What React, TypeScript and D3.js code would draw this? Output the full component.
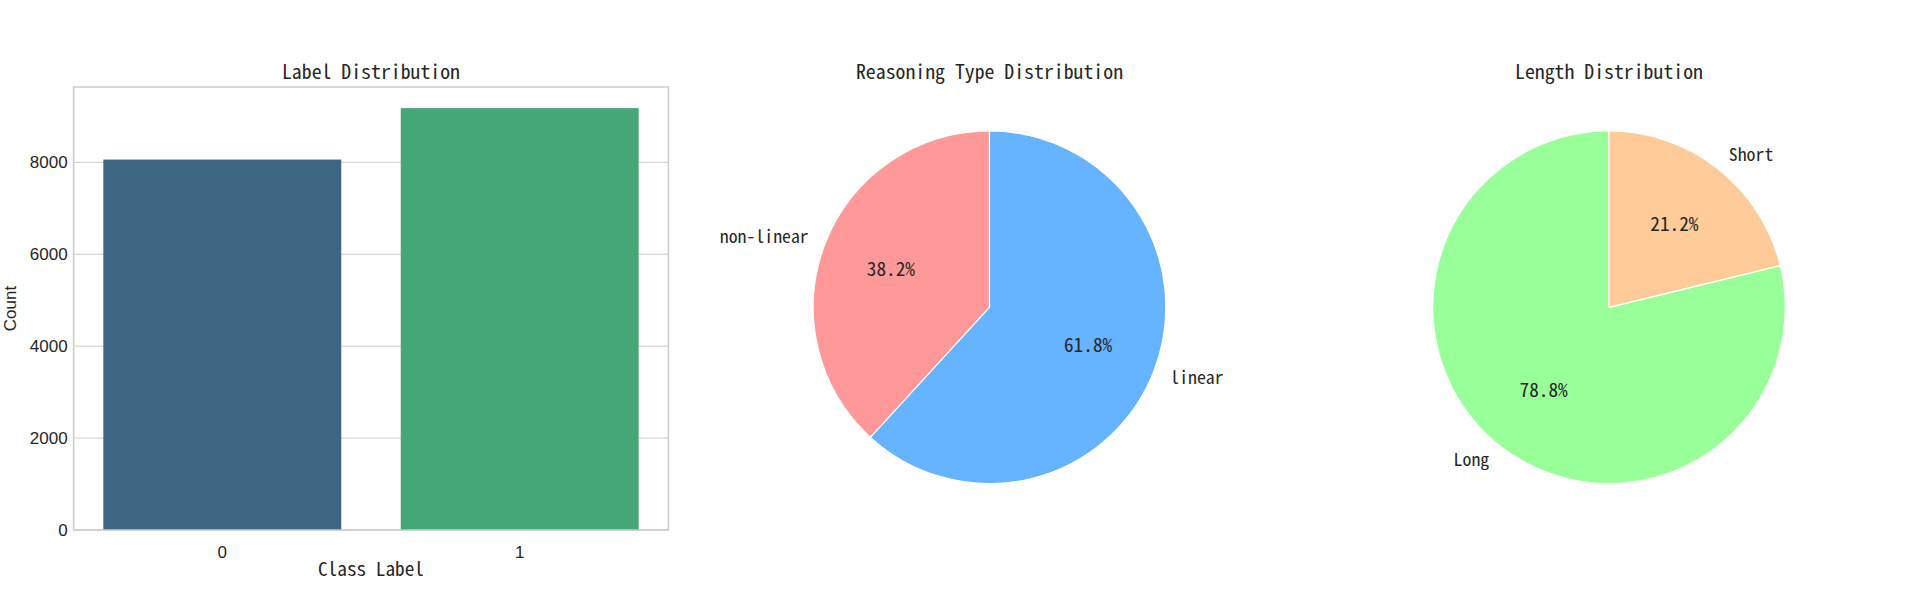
import React from "react";
import * as d3 from "d3";

const classLabels = ["0", "1"];
const classCounts = [8060, 9180];
const barColors = ["#3d6682", "#45a778"];
const yTicks = [0, 2000, 4000, 6000, 8000];

const reasoningLabels = ["non-linear", "linear"];
const reasoningShares = [38.2, 61.8];
const reasoningColors = ["#ff9999", "#66b3ff"];

const lengthLabels = ["Long", "Short"];
const lengthShares = [78.8, 21.2];
const lengthColors = ["#99ff99", "#ffcc99"];

const W = 1923;
const H = 600;
const MONO = "'Noto Sans Mono CJK SC', 'DejaVu Sans Mono', monospace";
const SANS = "'Liberation Sans', Arial, sans-serif";
const TXT = "#262626";

function BarPanel() {
  const left = 73.6, right = 668.4, top = 87, bottom = 530;
  const x = d3.scaleBand<string>().domain(classLabels).range([left, right]).paddingInner(0.2).paddingOuter(0.1);
  const maxV = d3.max(classCounts) as number;
  const y = d3.scaleLinear().domain([0, maxV * 1.05]).range([bottom, top]);
  return (
    <g>
      {yTicks.map((t) => (
        <g key={t}>
          <line x1={left} x2={right} y1={y(t)} y2={y(t)} stroke="#cccccc" strokeWidth={1} />
          <text x={left - 6} y={y(t)} dy="0.35em" textAnchor="end" fontFamily={SANS} fontSize={17} fill={TXT}>{t}</text>
        </g>
      ))}
      {classLabels.map((c, i) => (
        <g key={c}>
          <rect x={x(c)} y={y(classCounts[i])} width={x.bandwidth()} height={bottom - y(classCounts[i])} fill={barColors[i]} />
          <text x={(x(c) as number) + x.bandwidth() / 2} y={bottom + 28} textAnchor="middle" fontFamily={SANS} fontSize={17} fill={TXT}>{c}</text>
        </g>
      ))}
      <rect x={left} y={top} width={right - left} height={bottom - top} fill="none" stroke="#cccccc" strokeWidth={1.5} />
      <text x={(left + right) / 2} y={79} textAnchor="middle" fontFamily={MONO} fontSize={19.8} fill={TXT}>Label Distribution</text>
      <text x={(left + right) / 2} y={576} textAnchor="middle" fontFamily={MONO} fontSize={19.3} fill={TXT}>Class Label</text>
      <text transform={`translate(16,${(top + bottom) / 2}) rotate(-90)`} textAnchor="middle" fontFamily={SANS} fontSize={17} fill={TXT}>Count</text>
    </g>
  );
}

function PiePanel({ cx, title, labels, shares, colors }: { cx: number; title: string; labels: string[]; shares: number[]; colors: string[] }) {
  const cy = 307.3;
  const r = 176.3;
  const total = d3.sum(shares);
  let acc = 0;
  const slices = shares.map((v, i) => {
    const a0 = (acc / total) * 2 * Math.PI;
    acc += v;
    const a1 = (acc / total) * 2 * Math.PI;
    return { i, a0, a1 };
  });
  const arc = d3.arc<any>();
  return (
    <g>
      <text x={cx} y={79} textAnchor="middle" fontFamily={MONO} fontSize={19.8} fill={TXT}>{title}</text>
      {slices.map((s) => (
        <path
          key={s.i}
          transform={`translate(${cx},${cy})`}
          d={arc({ innerRadius: 0, outerRadius: r, startAngle: -s.a1, endAngle: -s.a0 }) as string}
          fill={colors[s.i]}
          stroke="#ffffff"
          strokeWidth={1.2}
          strokeLinejoin="round"
        />
      ))}
      {slices.map((s) => {
        const mid = Math.PI / 2 + (s.a0 + s.a1) / 2;
        const lx = cx + 1.1 * r * Math.cos(mid);
        const ly = cy - 1.1 * r * Math.sin(mid);
        const px = cx + 0.6 * r * Math.cos(mid);
        const py = cy - 0.6 * r * Math.sin(mid);
        return (
          <g key={"t" + s.i}>
            <text x={lx} y={ly} dy="0.35em" textAnchor={Math.cos(mid) > 0 ? "start" : "end"} fontFamily={MONO} fontSize={17.8} fill={TXT}>{labels[s.i]}</text>
            <text x={px} y={py} dy="0.35em" textAnchor="middle" fontFamily={MONO} fontSize={19.3} fill={TXT}>{shares[s.i].toFixed(1)}%</text>
          </g>
        );
      })}
    </g>
  );
}

export default function App() {
  return (
    <svg width={W} height={H} style={{ display: "block", position: "absolute", left: 0, top: 0, background: "#fff" }}>
      <rect width={W} height={H} fill="#ffffff" />
      <BarPanel />
      <PiePanel cx={989.5} title="Reasoning Type Distribution" labels={reasoningLabels} shares={reasoningShares} colors={reasoningColors} />
      <PiePanel cx={1609} title="Length Distribution" labels={lengthLabels} shares={lengthShares} colors={lengthColors} />
    </svg>
  );
}
